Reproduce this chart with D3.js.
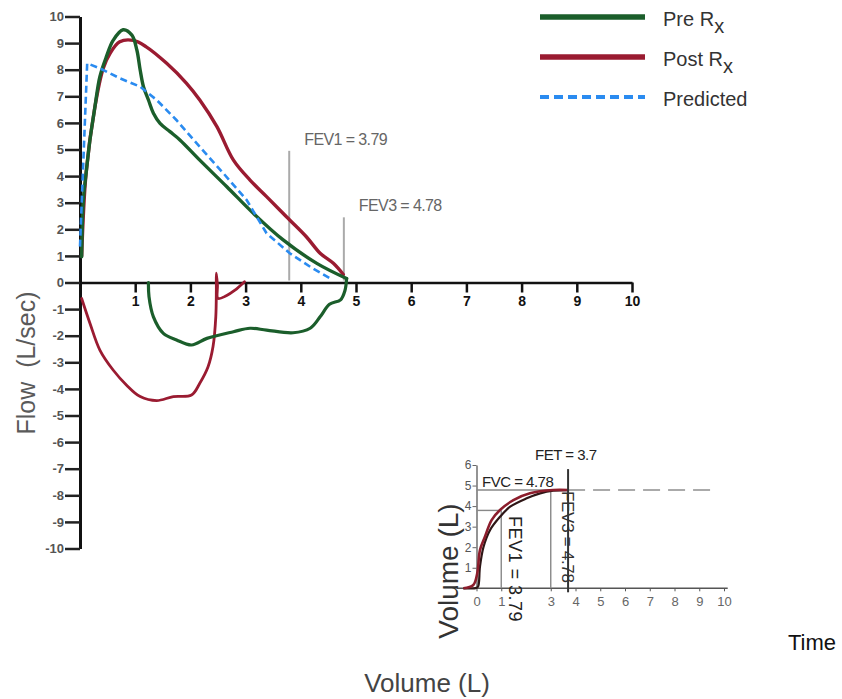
<!DOCTYPE html>
<html>
<head>
<meta charset="utf-8">
<script src="https://cdn.jsdelivr.net/npm/d3@7"></script>
<style>
  body { margin: 0; background: #fff; }
  svg { display: block; font-family: "Liberation Sans", Arial, sans-serif; }
</style>
</head>
<body>
<svg id="chart" width="842" height="699"></svg>
<script>
// flow-volume loops: [volume L, flow L/sec]
const preRxExp = [[0.03,0.97],[0.06,3.1],[0.11,4.1],[0.18,5.36],[0.27,6.6],[0.36,7.74],[0.48,8.5],[0.6,9.1],[0.78,9.5],[0.94,9.3],[1.03,8.74],[1.09,7.99],[1.15,7.36],[1.24,6.86],[1.33,6.36],[1.45,5.98],[1.63,5.67],[1.81,5.36],[2.17,4.6],[2.66,3.6],[3.14,2.6],[3.68,1.6],[4.29,0.72],[4.83,0.15]];
const preRxInsp = [[4.83,0.15],[4.8,-0.3],[4.72,-0.65],[4.52,-0.82],[4.35,-1.29],[4.17,-1.72],[3.86,-1.89],[3.38,-1.79],[3.08,-1.72],[2.78,-1.85],[2.3,-2.1],[2.02,-2.35],[1.75,-2.16],[1.51,-1.91],[1.33,-1.29],[1.25,-0.53],[1.24,0]];
const postRxExp = [[0.03,1.0],[0.11,4.1],[0.27,6.6],[0.42,8.05],[0.54,8.6],[0.72,9.05],[0.97,9.1],[1.2,8.86],[1.57,8.24],[1.93,7.49],[2.17,6.86],[2.48,5.86],[2.78,4.6],[3.08,3.85],[3.38,3.23],[3.74,2.47],[4.1,1.72],[4.35,1.1],[4.59,0.72],[4.77,0.3]];
const postRxInsp = [[0.03,-0.6],[0.18,-1.53],[0.36,-2.54],[0.6,-3.29],[0.84,-3.85],[1.09,-4.29],[1.39,-4.44],[1.69,-4.29],[2.02,-4.23],[2.17,-3.79],[2.32,-3.17],[2.41,-2.41],[2.46,-1.29],[2.47,-0.28],[2.47,0.35],[2.49,-0.1],[2.5,-0.6],[2.65,-0.5],[2.8,-0.3],[2.98,0.03]];
const predicted = [[0,1.35],[0.13,8.24],[0.36,8.05],[0.72,7.68],[1.09,7.36],[1.39,6.86],[1.75,6.1],[2.17,5.1],[2.6,4.1],[3.02,3.1],[3.2,2.47],[3.38,1.85],[3.8,1.1],[4.17,0.59],[4.53,0.16]];

const flowTicks = d3.range(-10, 11);
const volumeTicks = [1, 2, 3, 4, 5, 6, 7, 8, 9, 10];
const fevMarks = [{ label: "FEV1 = 3.79", v: 3.79, top: 4.95 }, { label: "FEV3 = 4.78", v: 4.78, top: 2.45 }];

// volume-time inset: [time s, volume L]
const postRxVT = [[-0.53,0],[-0.13,0.16],[0.03,0.73],[0.14,1.86],[0.34,2.51],[0.61,3.32],[0.95,3.81],[1.49,4.29],[2.16,4.62],[3.1,4.78],[3.7,4.78]];
const preRxVT = [[-0.53,0],[0,0.02],[0.07,0.1],[0.14,1.05],[0.28,2.0],[0.55,2.84],[0.95,3.48],[1.36,3.97],[2.03,4.38],[2.57,4.62],[3.1,4.75],[3.7,4.78]];
const timeTicks = [0, 1, 3, 4, 5, 6, 7, 8, 9, 10];
const insetVolTicks = [1, 2, 3, 4, 5, 6];
const fev1 = 3.79, fvc = 4.78, fet = 3.7;

const legendItems = [
  { name: "Pre R", sub: "x", color: "#1b5e2b", dash: null },
  { name: "Post R", sub: "x", color: "#9a1b31", dash: null },
  { name: "Predicted", sub: "", color: "#2a8bf0", dash: "9,5" }
];

const svg = d3.select("#chart");

// ---------- main flow-volume chart ----------
const x = d3.scaleLinear().domain([0, 10]).range([80, 632]);
const y = d3.scaleLinear().domain([-10, 10]).range([548.5, 16.5]);

const yAxis = d3.axisLeft(y).tickValues(flowTicks).tickSize(15).tickSizeOuter(0).tickPadding(1).tickFormat(d => String(d));
const gy = svg.append("g").attr("transform", `translate(${x(0)},0)`).call(yAxis);
gy.select(".domain").attr("stroke", "#111").attr("stroke-width", 3);
gy.selectAll(".tick line").attr("stroke", "#222").attr("stroke-width", 2.5);
gy.selectAll(".tick text").attr("fill", "#555").attr("font-size", 13).attr("font-weight", "bold")
  .attr("font-family", "Liberation Sans, Arial, sans-serif");

const xAxis = d3.axisBottom(x).tickValues(volumeTicks).tickSize(10).tickSizeOuter(0).tickPadding(4);
const gx = svg.append("g").attr("transform", `translate(0,${y(0)})`).call(xAxis);
gx.select(".domain").attr("stroke", "#111").attr("stroke-width", 2.5);
gx.selectAll(".tick line").attr("stroke", "#111").attr("stroke-width", 2.5);
gx.selectAll(".tick text").attr("fill", "#111").attr("font-size", 14).attr("font-weight", "bold")
  .attr("font-family", "Liberation Sans, Arial, sans-serif");

// FEV markers
svg.selectAll("line.fev").data(fevMarks).join("line").attr("class", "fev")
  .attr("x1", d => x(d.v)).attr("x2", d => x(d.v))
  .attr("y1", d => y(d.top)).attr("y2", y(0) - 2)
  .attr("stroke", "#aaa").attr("stroke-width", 2);
svg.selectAll("text.fev").data(fevMarks).join("text").attr("class", "fev")
  .attr("x", d => x(d.v) + 15).attr("y", d => y(d.top) - 6)
  .attr("font-size", 16).attr("letter-spacing", -0.6).attr("fill", "#666")
  .text(d => d.label);

const line = d3.line().x(d => x(d[0])).y(d => y(d[1])).curve(d3.curveCatmullRom.alpha(0.5));
const curves = [
  { data: postRxInsp, color: "#9a1b31", w: 2.8 },
  { data: postRxExp, color: "#9a1b31", w: 3.4 },
  { data: preRxInsp, color: "#1b5e2b", w: 3.2 },
  { data: preRxExp, color: "#1b5e2b", w: 3.4 }
];
svg.selectAll("path.curve").data(curves).join("path").attr("class", "curve")
  .attr("d", d => line(d.data)).attr("fill", "none")
  .attr("stroke", d => d.color).attr("stroke-width", d => d.w)
  .attr("stroke-linejoin", "round").attr("stroke-linecap", "round");
svg.append("path").attr("d", d3.line().x(d => x(d[0])).y(d => y(d[1]))(predicted))
  .attr("fill", "none").attr("stroke", "#2a8bf0").attr("stroke-width", 2.6)
  .attr("stroke-dasharray", "7,4");

svg.append("text").attr("transform", "translate(35,363) rotate(-90)")
  .attr("text-anchor", "middle").attr("font-size", 25).attr("fill", "#5a5a5a")
  .attr("xml:space", "preserve").text("Flow  (L/sec)");

svg.append("text").attr("x", 427).attr("y", 692).attr("text-anchor", "middle")
  .attr("font-size", 26).attr("fill", "#444").text("Volume (L)");

svg.append("text").attr("x", 788).attr("y", 650)
  .attr("font-size", 22).attr("fill", "#111").text("Time");

// legend
const lg = svg.append("g");
legendItems.forEach((d, i) => {
  const yy = 17 + i * 40;
  lg.append("line").attr("x1", 540).attr("x2", 645).attr("y1", yy).attr("y2", yy)
    .attr("stroke", d.color).attr("stroke-width", d.dash ? 4 : 5.5)
    .attr("stroke-dasharray", d.dash);
  const t = lg.append("text").attr("x", 663).attr("y", yy + 9)
    .attr("font-size", 20).attr("fill", "#333");
  t.append("tspan").text(d.name);
  if (d.sub) t.append("tspan").attr("dy", 7).attr("font-size", 20).text(d.sub);
});

// ---------- volume-time inset ----------
const xi = d3.scaleLinear().domain([0, 10]).range([476.5, 724]);
const yi = d3.scaleLinear().domain([0, 6]).range([588.3, 465]);

const gxi = svg.append("g").attr("transform", `translate(0,${yi(0)})`)
  .call(d3.axisBottom(xi).tickValues(timeTicks).tickSize(3).tickSizeOuter(0).tickPadding(5).tickFormat(d => String(d)));
gxi.select(".domain").remove();
gxi.append("line").attr("x1", xi(-0.8)).attr("x2", xi(10.15)).attr("stroke", "#555").attr("stroke-width", 1.6);
gxi.selectAll(".tick line").attr("stroke", "#555");
gxi.selectAll(".tick text").attr("fill", "#666").attr("font-size", 13)
  .attr("font-family", "Liberation Sans, Arial, sans-serif");

const gyi = svg.append("g").attr("transform", `translate(${xi(0)},0)`)
  .call(d3.axisLeft(yi).tickValues(insetVolTicks).tickSize(4).tickSizeOuter(0).tickPadding(1).tickFormat(d => String(d)));
gyi.select(".domain").attr("stroke", "#666").attr("stroke-width", 1.4);
gyi.selectAll(".tick line").attr("stroke", "#666");
gyi.selectAll(".tick text").attr("fill", "#555").attr("font-size", 12)
  .attr("font-family", "Liberation Sans, Arial, sans-serif");

// reference lines
const ref = svg.append("g").attr("stroke", "#888").attr("stroke-width", 1.4);
ref.append("line").attr("x1", xi(0)).attr("x2", xi(1)).attr("y1", yi(fev1)).attr("y2", yi(fev1));
ref.append("line").attr("x1", xi(1)).attr("x2", xi(1)).attr("y1", yi(fev1)).attr("y2", yi(0));
ref.append("line").attr("x1", xi(3)).attr("x2", xi(3)).attr("y1", yi(fvc)).attr("y2", yi(0));
ref.append("line").attr("x1", xi(0)).attr("x2", xi(fet)).attr("y1", yi(fvc)).attr("y2", yi(fvc));
svg.append("line").attr("x1", xi(fet)).attr("x2", xi(9.7)).attr("y1", yi(fvc)).attr("y2", yi(fvc))
  .attr("stroke", "#aaa").attr("stroke-width", 2).attr("stroke-dasharray", "17,8");

const li = d3.line().x(d => xi(d[0])).y(d => yi(d[1])).curve(d3.curveCatmullRom.alpha(0.5));
svg.append("path").attr("d", li(preRxVT)).attr("fill", "none").attr("stroke", "#2e1616").attr("stroke-width", 2.2);
svg.append("path").attr("d", li(postRxVT)).attr("fill", "none").attr("stroke", "#8c1d2c").attr("stroke-width", 2.6);

svg.append("line").attr("x1", xi(fet)).attr("x2", xi(fet)).attr("y1", yi(5.8)).attr("y2", yi(0) + 4)
  .attr("stroke", "#333").attr("stroke-width", 2);

svg.append("text").attr("x", 535).attr("y", 460).attr("font-size", 15).attr("letter-spacing", -0.5)
  .attr("fill", "#222").text("FET = " + fet);
svg.append("text").attr("x", 482).attr("y", 487).attr("font-size", 15).attr("letter-spacing", -0.5)
  .attr("fill", "#222").text("FVC = " + fvc);
svg.append("text").attr("transform", "translate(509,516) rotate(90)")
  .attr("font-size", 18).attr("letter-spacing", 0.5).attr("fill", "#222").text("FEV1 = " + fev1);
svg.append("text").attr("transform", "translate(562,491) rotate(90)")
  .attr("font-size", 17).attr("letter-spacing", -0.3).attr("fill", "#333").text("FEV3 = " + fvc);

svg.append("text").attr("transform", "translate(458,571) rotate(-90)")
  .attr("text-anchor", "middle").attr("font-size", 28).attr("fill", "#333").text("Volume (L)");
</script>
</body>
</html>
